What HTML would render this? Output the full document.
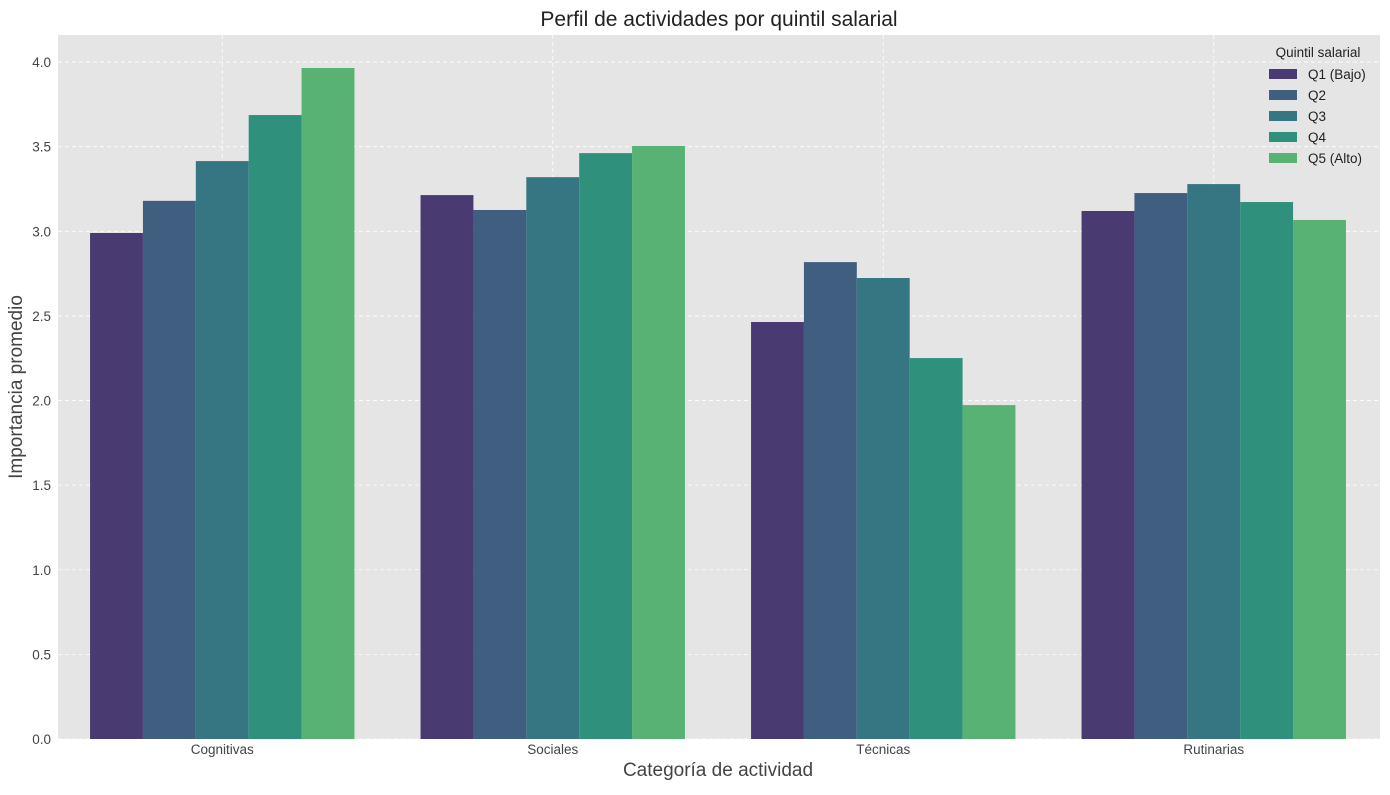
<!DOCTYPE html>
<html><head><meta charset="utf-8"><style>
body{margin:0;background:#fff;font-family:"Liberation Sans",sans-serif;}
</style></head><body>
<svg id="chart" width="1390" height="790" xmlns="http://www.w3.org/2000/svg" font-family="Liberation Sans, sans-serif">
<rect x="0" y="0" width="1390" height="790" fill="#fff"/>
<rect x="58" y="35" width="1322" height="704" fill="#e5e5e5"/>
<g id="grid"></g><g id="bars"></g><g id="axes"></g>
<text x="719" y="26" text-anchor="middle" font-size="21" fill="#222">Perfil de actividades por quintil salarial</text>
<text x="718" y="776" text-anchor="middle" font-size="19" fill="#444">Categoría de actividad</text>
<text transform="translate(22,387) rotate(-90)" text-anchor="middle" font-size="19" fill="#444">Importancia promedio</text>
<g id="legend"></g>
</svg>
<script>
const categories=["Cognitivas","Sociales","Técnicas","Rutinarias"];
const seriesNames=["Q1 (Bajo)","Q2","Q3","Q4","Q5 (Alto)"];
const q1=[2.99,3.214,2.464,3.12];
const q2=[3.18,3.126,2.818,3.226];
const q3=[3.415,3.32,2.724,3.279];
const q4=[3.687,3.462,2.251,3.173];
const q5=[3.965,3.504,1.973,3.067];
const yTicks=[0,0.5,1,1.5,2,2.5,3,3.5,4];
const series=[q1,q2,q3,q4,q5];
const colors=["#4a3a72","#3f5e80","#357682","#2f907c","#58b274"];
const NS="http://www.w3.org/2000/svg";
const L=57,R=1379,T=35,B=739;
const ymax=4.16;
const y=v=>B-v/ymax*(B-T);
const unit=(R-L)/categories.length;
const xc=i=>L+unit*(i+0.5);
const bw=unit*0.8/series.length;
function mk(tag,attrs,parent){const e=document.createElementNS(NS,tag);for(const k in attrs)e.setAttribute(k,attrs[k]);parent.appendChild(e);return e;}
const grid=document.getElementById('grid'),bars=document.getElementById('bars'),axes=document.getElementById('axes'),leg=document.getElementById('legend');
yTicks.forEach(t=>{
 const l=mk('line',{x1:58,x2:1380,y1:y(t),y2:y(t),stroke:'#fff','stroke-dasharray':'4,3','stroke-width':0.8},grid);
 
 
 const tx=mk('text',{x:51,y:y(t)+5,'text-anchor':'end','font-size':13.5,fill:'#444'},axes);
 tx.textContent=t.toFixed(1);
 
 
});
categories.forEach((c,i)=>{
 const l=mk('line',{x1:xc(i),x2:xc(i),y1:T,y2:B,stroke:'#fff','stroke-dasharray':'4,3','stroke-width':0.8},grid);
 
 
 const tx=mk('text',{x:xc(i),y:B+15,'text-anchor':'middle','font-size':13.5,fill:'#444'},axes);
 tx.textContent=c;
 
 
 series.forEach((s,j)=>{
  const x0=xc(i)-unit*0.4+j*bw;
  const r=mk('rect',{x:x0,y:y(s[i]),width:bw,height:B-y(s[i]),fill:colors[j]},bars);
  
  
 });
});
const lt=mk('text',{x:1318,y:57,'text-anchor':'middle','font-size':13.5,fill:'#222'},leg);
lt.textContent="Quintil salarial";


seriesNames.forEach((n,j)=>{
 const yy=74+j*21;
 const sw=mk('rect',{x:1269,y:yy-5,width:28,height:10,fill:colors[j]},leg);
 
 
 const tx=mk('text',{x:1308,y:yy+5,'font-size':13.5,fill:'#222'},leg);
 tx.textContent=n;
 
 
});
</script>
</body></html>
